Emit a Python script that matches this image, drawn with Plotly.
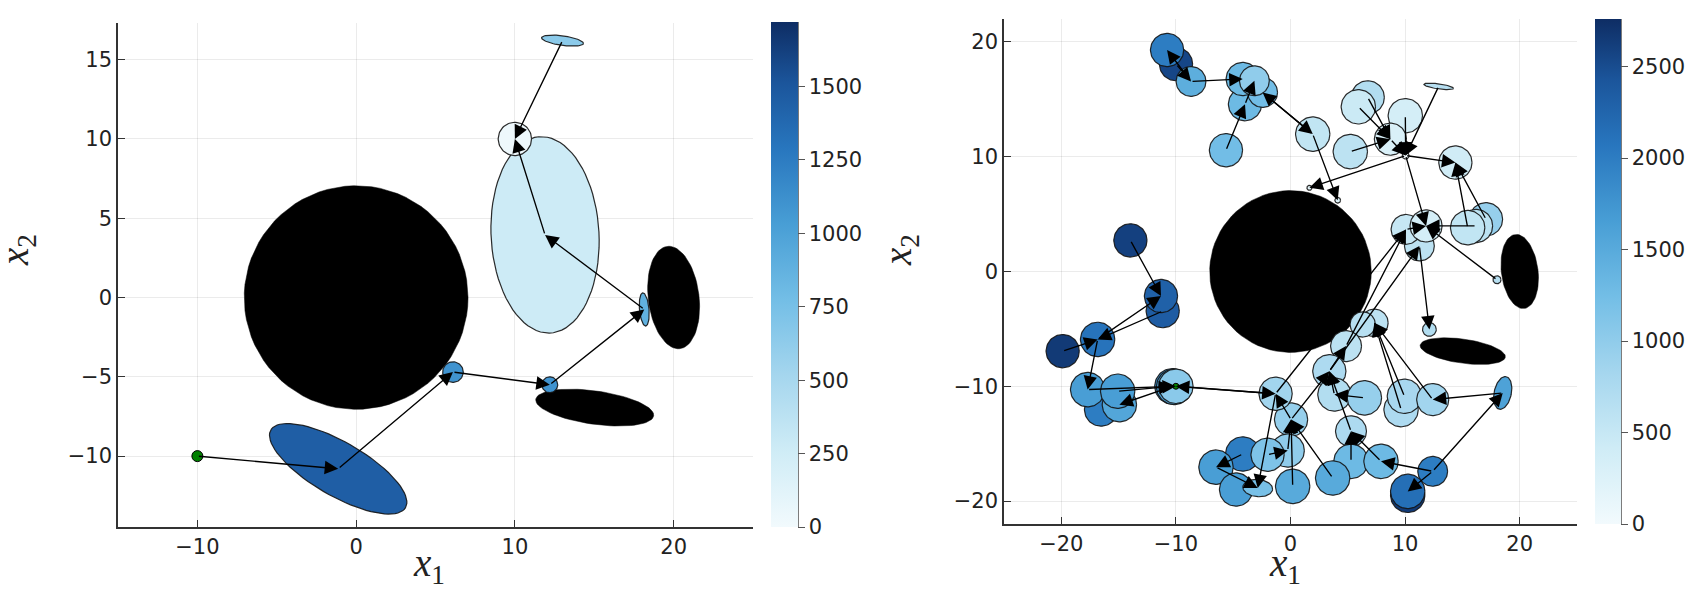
import numpy as np
import plotly.graph_objects as go
from plotly.colors import sample_colorscale

# ---------------- data ----------------
# colour scale of the cost values (light -> dark blue)
BLUES = [
    [0.0, "rgb(242,250,253)"],
    [0.15, "rgb(207,236,246)"],
    [0.3, "rgb(165,214,238)"],
    [0.45, "rgb(115,190,230)"],
    [0.6, "rgb(72,158,213)"],
    [0.75, "rgb(40,118,190)"],
    [0.88, "rgb(27,85,155)"],
    [1.0, "rgb(14,45,100)"],
]

# obstacles (same in both panels): centre, semi axes, rotation [deg]
obs_x = [0.0, 20.0, 15.03]
obs_y = [0.0, 0.0, -6.94]
obs_rx = [7.05, 1.6, 3.75]
obs_ry = [7.05, 3.25, 1.05]
obs_ang = [0.0, 7.0, -8.0]

start = (-10.0, -10.0)

# left panel: belief nodes (mean, covariance ellipse, cost)
left_x = [-1.13, 6.1, 12.2, 18.15, 11.9, 10.0, 13.0]
left_y = [-10.8, -4.7, -5.5, -0.75, 3.95, 10.0, 16.2]
left_rx = [4.9, 0.65, 0.5, 0.3, 3.4, 1.05, 1.33]
left_ry = [1.7, 0.65, 0.5, 1.05, 6.2, 1.05, 0.3]
left_ang = [-30, 0, 0, 5, 3, 0, -8]
left_cost = [1450, 1100, 1100, 880, 270, 30, 650]
left_edges = [(-1, 0), (0, 1), (1, 2), (2, 3), (3, 4), (4, 5), (6, 5)]  # -1 = start
left_cmax = 1720

# right panel
right_x = [-9.99, -10.77, -8.68, -5.63, -3.97, -2.43, -4.17, -3.15,
           1.94, 4.12, 1.65, 6.74, 5.92, 10.02, 8.72, 5.22, 10.05, 12.93,
           14.39, 17.06, 16.19, 15.46, 11.25, 10.08, 11.83, 18.02, 12.12,
           7.32, 6.3, 4.85, 3.39, 3.83, 6.45, 9.65, 9.94, 12.41, 18.52,
           5.28, 5.28, 7.9, 3.68, 0.19, 12.41, 10.23, 10.23, 0.05, -0.24, -1.3,
           -4.17, -6.5, -4.75, -2.0, -2.86,
           -13.97, -11.15, -11.3, -19.88, -16.83, -16.53, -17.7, -14.93, -15.08,
           -10.3, -10.15, -10.0]
right_y = [18.07, 19.3, 16.56, 10.57, 14.58, 15.6, 16.77, 16.62,
           11.97, 6.21, 7.29, 15.17, 14.35, 13.57, 11.53, 10.45, 10.1, 16.13,
           9.49, 4.55, 3.97, 3.82, 2.22, 3.67, 3.97, -0.72, -5.05,
           -4.47, -4.61, -6.5, -8.69, -10.72, -11.01, -12.03, -10.87, -11.16, -10.58,
           -13.92, -16.54, -16.54, -17.99, -18.72, -17.41, -19.5, -19.16, -12.9, -15.6, -10.65,
           -15.9, -17.05, -19.0, -15.96, -18.87,
           2.71, -3.45, -2.14, -6.94, -5.92, -12.03, -10.29, -11.6, -10.43,
           -10.0, -10.05, -10.0]
right_rx = [1.45, 1.45, 1.3, 1.45, 1.45, 1.3, 1.45, 1.3,
            1.5, 0.25, 0.22, 1.45, 1.5, 1.5, 1.4, 1.5, 0.3, 1.3,
            1.45, 1.45, 1.45, 1.5, 1.3, 1.3, 1.4, 0.35, 0.6,
            1.2, 1.1, 1.35, 1.45, 1.45, 1.5, 1.5, 1.5, 1.4, 0.75,
            1.35, 1.5, 1.5, 1.5, 1.5, 1.3, 1.5, 1.5, 1.45, 1.45, 1.45,
            1.5, 1.5, 1.45, 1.45, 1.3,
            1.45, 1.45, 1.45, 1.45, 1.5, 1.45, 1.5, 1.5, 1.5,
            1.55, 1.55, 1.5]
right_ry = [1.45, 1.45, 1.3, 1.45, 1.45, 1.3, 1.45, 1.3,
            1.5, 0.25, 0.22, 1.45, 1.5, 1.5, 1.4, 1.5, 0.3, 0.22,
            1.45, 1.45, 1.45, 1.5, 1.3, 1.3, 1.4, 0.35, 0.6,
            1.2, 1.1, 1.35, 1.45, 1.45, 1.5, 1.5, 1.5, 1.4, 1.45,
            1.35, 1.5, 1.5, 1.5, 1.5, 1.3, 1.5, 1.5, 1.45, 1.45, 1.45,
            1.5, 1.5, 1.45, 1.45, 0.75,
            1.45, 1.45, 1.45, 1.45, 1.5, 1.45, 1.5, 1.5, 1.5,
            1.55, 1.55, 1.5]
right_ang = [0] * 17 + [-8] + [0] * 18 + [-12] + [0] * 15 + [-5] + [0] * 12
right_cost = [2550, 2000, 1450, 1250, 1300, 1250, 1300, 1000,
              550, 250, 150, 700, 450, 350, 300, 600, 0, 650,
              400, 950, 600, 550, 600, 500, 350, 650, 700,
              600, 650, 600, 750, 700, 950, 750, 800, 850, 1600,
              750, 1300, 1300, 1500, 1500, 2000, 2650, 2150, 950, 1000, 850,
              2000, 1650, 1650, 1150, 1200,
              2600, 2350, 2300, 2650, 2100, 2000, 1650, 1550, 1650,
              1800, 1600, 1050]
right_edges = [(2, 1), (0, 2), (2, 6), (3, 4), (4, 7), (8, 5), (5, 8), (8, 9),
               (16, 10), (12, 14), (11, 14), (15, 14), (14, 16), (13, 16), (17, 16),
               (16, 18), (19, 18), (21, 18), (16, 24), (20, 24), (23, 24), (25, 24),
               (22, 26), (47, 23), (30, 22), (29, 23), (33, 27), (34, 27), (35, 27),
               (36, 35), (42, 36), (42, 44), (42, 39), (38, 37), (39, 37), (37, 30),
               (40, 45), (41, 45), (45, 30), (45, 47), (46, 45), (51, 46), (32, 31),
               (31, 30), (30, 29), (48, 49), (49, 52), (47, 52), (47, 64), (64, 47),
               (53, 55), (57, 55), (54, 57), (56, 57), (57, 59), (59, 64), (62, 60),
               (61, 62)]
right_cmax = 2760


def ellipse(cx, cy, rx, ry, ang, n=80):
    t = np.linspace(0, 2 * np.pi, n)
    a = np.deg2rad(ang)
    ex = cx + rx * np.cos(t) * np.cos(a) - ry * np.sin(t) * np.sin(a)
    ey = cy + rx * np.cos(t) * np.sin(a) + ry * np.sin(t) * np.cos(a)
    return ex, ey


fig = go.Figure()
annotations = []


def add_panel(xa, ya, xs, ys, rxs, rys, angs, costs, edges, cmax, cax, start_size):
    for i in range(len(obs_x)):
        ex, ey = ellipse(obs_x[i], obs_y[i], obs_rx[i], obs_ry[i], obs_ang[i])
        fig.add_scatter(x=ex, y=ey, xaxis=xa, yaxis=ya, mode="lines", fill="toself",
                        fillcolor="black", line=dict(color="black", width=0.5),
                        hoverinfo="skip", showlegend=False)
    cols = sample_colorscale(BLUES, [c / cmax for c in costs])
    for i in range(len(xs)):
        ex, ey = ellipse(xs[i], ys[i], rxs[i], rys[i], angs[i])
        fig.add_scatter(x=ex, y=ey, xaxis=xa, yaxis=ya, mode="lines", fill="toself",
                        fillcolor=cols[i], line=dict(color="rgba(20,20,20,0.9)", width=1.2),
                        hoverinfo="skip", showlegend=False)
    # invisible markers carrying the colour axis
    fig.add_scatter(x=xs, y=ys, xaxis=xa, yaxis=ya, mode="markers",
                    marker=dict(color=costs, coloraxis=cax, size=2, opacity=0),
                    showlegend=False, hoverinfo="skip")
    fig.add_scatter(x=[start[0]], y=[start[1]], xaxis=xa, yaxis=ya, mode="markers",
                    marker=dict(color="green", size=start_size, line=dict(color="black", width=1)),
                    showlegend=False, hoverinfo="skip")
    for a, b in edges:
        x0, y0 = start if a == -1 else (xs[a], ys[a])
        annotations.append(dict(
            x=xs[b], y=ys[b], ax=x0, ay=y0, xref=xa, yref=ya, axref=xa, ayref=ya,
            text="", showarrow=True, arrowhead=2, arrowsize=2.0, arrowwidth=1.35,
            arrowcolor="black", standoff=0, startstandoff=0))


add_panel("x", "y", left_x, left_y, left_rx, left_ry, left_ang, left_cost,
          left_edges, left_cmax, "coloraxis", 11)
add_panel("x2", "y2", right_x, right_y, right_rx, right_ry, right_ang, right_cost,
          right_edges, right_cmax, "coloraxis2", 6)

W, H = 1693, 591
tickfont = dict(family="DejaVu Sans", size=21, color="#222")
titlefont = dict(family="Liberation Serif", size=39, color="#222")
axis_common = dict(showgrid=True, gridcolor="rgba(0,0,0,0.08)", gridwidth=1, zeroline=False,
                   showline=True, linecolor="#333", linewidth=1.5, ticks="inside", ticklen=7,
                   tickcolor="#333", tickfont=tickfont, mirror=False)

# axis labels as paper annotations (x1 under each panel, x2 rotated on the left)
for px, py, txt, rot in [(421, 557, "<i>x</i><sub>1</sub>", 0), (1277, 557, "<i>x</i><sub>1</sub>", 0),
                         (9, 242, "<i>x</i><sub>2</sub>", -90), (892, 242, "<i>x</i><sub>2</sub>", -90)]:
    annotations.append(dict(x=px / W, y=1 - py / H, xref="paper", yref="paper", text=txt,
                            showarrow=False, textangle=rot, font=titlefont,
                            xanchor="center", yanchor="middle"))


def cbar(x0, x1, y0, y1, dtick):
    return dict(x=x0 / W, xanchor="left", y=1 - y1 / H, yanchor="bottom",
                len=(y1 - y0) / H, lenmode="fraction", thickness=x1 - x0,
                thicknessmode="pixels", xpad=0, ypad=0, outlinewidth=0,
                ticks="outside", ticklen=7, tickcolor="#555", tickfont=tickfont,
                dtick=dtick, tick0=0)


fig.update_layout(
    width=W, height=H, autosize=False,
    margin=dict(l=0, r=0, t=0, b=0),
    paper_bgcolor="white", plot_bgcolor="white",
    xaxis=dict(domain=[110 / W, 745 / W], range=[-15, 25], tickvals=[-10, 0, 10, 20],
               anchor="y", **axis_common),
    yaxis=dict(domain=[1 - 519 / H, 1 - 15 / H], range=[-14.47, 17.31],
               tickvals=[-10, -5, 0, 5, 10, 15], anchor="x", **axis_common),
    xaxis2=dict(domain=[996 / W, 1569 / W], range=[-25, 25], tickvals=[-20, -10, 0, 10, 20],
                anchor="y2", **axis_common),
    yaxis2=dict(domain=[1 - 516 / H, 1 - 11 / H], range=[-22, 22],
                tickvals=[-20, -10, 0, 10, 20], anchor="x2", **axis_common),
    coloraxis=dict(colorscale=BLUES, cmin=0, cmax=left_cmax,
                   colorbar=cbar(763, 790, 14, 519, 250)),
    coloraxis2=dict(colorscale=BLUES, cmin=0, cmax=right_cmax,
                    colorbar=cbar(1587, 1613, 11, 516, 500)),
    annotations=annotations,
    shapes=[
        dict(type="line", xref="paper", yref="paper", x0=790 / W, x1=790 / W,
             y0=1 - 519 / H, y1=1 - 14 / H, line=dict(color="#444", width=1.4)),
        dict(type="line", xref="paper", yref="paper", x0=1613 / W, x1=1613 / W,
             y0=1 - 516 / H, y1=1 - 11 / H, line=dict(color="#444", width=1.4)),
    ],
)

fig.write_html("out.html")
